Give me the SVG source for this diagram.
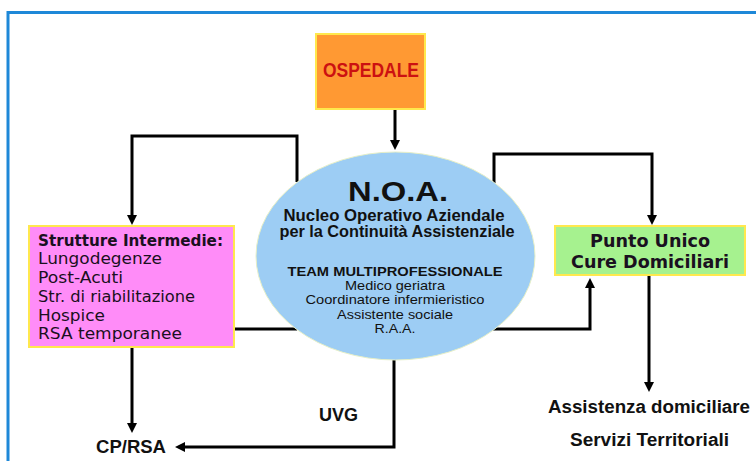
<svg xmlns="http://www.w3.org/2000/svg" width="756" height="461" viewBox="0 0 756 461">
<defs>
<marker id="ah" viewBox="0 0 10 10" refX="4" refY="5" markerWidth="10" markerHeight="10" markerUnits="userSpaceOnUse" orient="auto">
<path d="M0,0 L10,5 L0,10 z" fill="#000"/>
</marker>
<style>
.box{stroke:#FFE84D;stroke-width:2}
.conn{fill:none;stroke:#000;stroke-width:3}
.arr{marker-end:url(#ah)}
.a{font-family:"Liberation Sans",Arial,sans-serif;fill:#111}
.b{font-weight:bold}
.d{font-family:"DejaVu Sans",Verdana,sans-serif;fill:#1a1020;font-size:16px}
.c{text-anchor:middle}
.bot{font-family:"Liberation Sans",Arial,sans-serif;font-weight:bold;font-size:18px;fill:#111}
</style>
</defs>
<rect width="756" height="461" fill="#fff"/>
<rect x="8" y="12.5" width="800" height="500" fill="none" stroke="#1E88D8" stroke-width="3"/>

<g id="connectors">
<path class="conn arr" d="M395 109 V144"/>
<path class="conn arr" d="M297 182 V136 H132 V219"/>
<path class="conn arr" d="M494 183 V154 H652 V219"/>
<path class="conn" d="M234 329 H297"/>
<path class="conn arr" d="M493 329 H590 V284"/>
<path class="conn arr" d="M649 275 V386"/>
<path class="conn arr" d="M132 347 V427"/>
<path class="conn arr" d="M394 360 V447 H181"/>
</g>

<g id="ospedale">
<rect class="box" x="316" y="34" width="109" height="75" fill="#FF9933"/>
<text class="c b" x="371" y="77" font-family="Liberation Sans, Arial, sans-serif" font-size="21" fill="#CC1111" textLength="96" lengthAdjust="spacingAndGlyphs">OSPEDALE</text>
</g>

<g id="noa">
<ellipse cx="395.5" cy="256" rx="139.5" ry="104" fill="#9DCDF4" stroke="#E6EFC8" stroke-width="1"/>
<text class="a b c" x="398" y="201" font-size="28" textLength="100" lengthAdjust="spacingAndGlyphs">N.O.A.</text>
<text class="a b c" x="394" y="221" font-size="16" textLength="221" lengthAdjust="spacingAndGlyphs">Nucleo Operativo Aziendale</text>
<text class="a b c" x="397" y="237" font-size="16" textLength="235" lengthAdjust="spacingAndGlyphs">per la Continuità Assistenziale</text>
<text class="a b c" x="395" y="276" font-size="13" textLength="215" lengthAdjust="spacingAndGlyphs">TEAM MULTIPROFESSIONALE</text>
<text class="a c" x="395" y="290" font-size="13" textLength="100" lengthAdjust="spacingAndGlyphs">Medico geriatra</text>
<text class="a c" x="395" y="304" font-size="13" textLength="179" lengthAdjust="spacingAndGlyphs">Coordinatore infermieristico</text>
<text class="a c" x="395" y="319" font-size="13" textLength="116" lengthAdjust="spacingAndGlyphs">Assistente sociale</text>
<text class="a c" x="395" y="333" font-size="13" textLength="41" lengthAdjust="spacingAndGlyphs">R.A.A.</text>
</g>

<g id="strutture">
<rect class="box" x="29" y="226" width="205" height="121" fill="#FF8CF8"/>
<text class="d b" x="38" y="246" style="font-size:15px" textLength="185" lengthAdjust="spacingAndGlyphs">Strutture Intermedie:</text>
<text class="d" x="38" y="264" textLength="124" lengthAdjust="spacingAndGlyphs">Lungodegenze</text>
<text class="d" x="38" y="283" textLength="85" lengthAdjust="spacingAndGlyphs">Post-Acuti</text>
<text class="d" x="38" y="302" textLength="157" lengthAdjust="spacingAndGlyphs">Str. di riabilitazione</text>
<text class="d" x="38" y="321" textLength="67" lengthAdjust="spacingAndGlyphs">Hospice</text>
<text class="d" x="38" y="339" textLength="144" lengthAdjust="spacingAndGlyphs">RSA temporanee</text>
</g>

<g id="punto-unico">
<rect class="box" x="555" y="226" width="190" height="49" fill="#A6F28F"/>
<text class="d b c" x="650" y="247" style="font-size:17px" textLength="120" lengthAdjust="spacingAndGlyphs">Punto Unico</text>
<text class="d b c" x="650" y="268" style="font-size:17px" textLength="158" lengthAdjust="spacingAndGlyphs">Cure Domiciliari</text>
</g>

<g id="uvg"><text class="bot" x="319" y="421" textLength="39" lengthAdjust="spacingAndGlyphs">UVG</text></g>
<g id="cp-rsa"><text class="bot" x="96" y="453" textLength="70" lengthAdjust="spacingAndGlyphs">CP/RSA</text></g>
<g id="assistenza"><text class="bot" x="548" y="413" textLength="202" lengthAdjust="spacingAndGlyphs">Assistenza domiciliare</text></g>
<g id="servizi"><text class="bot" x="570" y="446" textLength="159" lengthAdjust="spacingAndGlyphs">Servizi Territoriali</text></g>
</svg>
